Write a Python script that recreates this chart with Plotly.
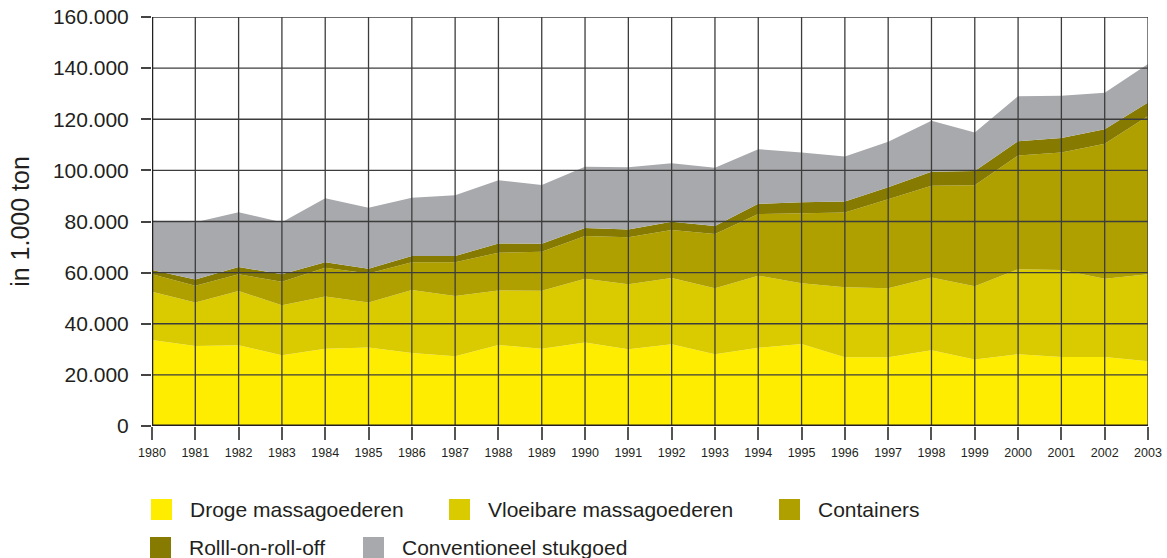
import plotly.graph_objects as go

# ---- data (in 1.000 ton) ----
years = [1980, 1981, 1982, 1983, 1984, 1985, 1986, 1987, 1988, 1989, 1990, 1991,
         1992, 1993, 1994, 1995, 1996, 1997, 1998, 1999, 2000, 2001, 2002, 2003]

droge = [33600, 31300, 31600, 27700, 30200, 30700, 28600, 27300, 31700, 30200, 32700, 30000,
         32000, 28100, 30600, 32100, 26900, 26900, 29600, 26000, 28100, 27000, 27000, 25300]
vloeibare = [18900, 17000, 21200, 19500, 20500, 17600, 24600, 23600, 21300, 22700, 24900, 25500,
             25900, 25800, 28200, 23700, 27400, 27000, 28500, 28700, 33200, 34000, 30600, 34100]
containers = [6900, 6600, 6600, 9200, 11200, 11400, 10900, 13200, 14800, 15300, 16700, 18300,
              18800, 21200, 24100, 27400, 29200, 34800, 35900, 39500, 44500, 46000, 52800, 61900]
roro = [1600, 2400, 2800, 3000, 2200, 1800, 2400, 2400, 3600, 3100, 3200, 3100,
        3200, 3100, 4000, 4300, 4300, 4700, 5500, 5600, 5600, 5700, 5700, 5300]
conventioneel = [19300, 22400, 21400, 20300, 25000, 23900, 22800, 23800, 24700, 23000, 23900, 24300,
                 22900, 22800, 21400, 19500, 17600, 17800, 19900, 15000, 17600, 16500, 14300, 15000]

series_names = ["Droge massagoederen", "Vloeibare massagoederen", "Containers",
                "Rolll-on-roll-off", "Conventioneel stukgoed"]
series_values = [droge, vloeibare, containers, roro, conventioneel]
series_colors = ["#FFED00", "#D9CB00", "#AFA000", "#867B00", "#A8A9AC"]

y_tickvals = [0, 20000, 40000, 60000, 80000, 100000, 120000, 140000, 160000]
y_ticktext = ["0", "20.000", "40.000", "60.000", "80.000", "100.000", "120.000", "140.000", "160.000"]

FONT = "Liberation Sans, Arial, sans-serif"
TXT = "#231f20"
W, H = 1167, 558
ML, MR, MT, MB = 152, 19, 17, 132

fig = go.Figure()
for name, vals, col in zip(series_names, series_values, series_colors):
    fig.add_trace(go.Scatter(
        x=years, y=vals, name=name, stackgroup="one", mode="lines",
        line=dict(width=0, color=col), fillcolor=col, showlegend=False,
        hoverinfo="x+y+name"))

# grid drawn above the areas (as in the reference)
shapes = []
for yr in years:
    shapes.append(dict(type="line", xref="x", yref="y domain", x0=yr, x1=yr, y0=0, y1=1,
                       line=dict(color="#3c3c3c", width=1.3), layer="above"))
for v in y_tickvals[1:]:
    shapes.append(dict(type="line", xref="x domain", yref="y", x0=0, x1=1, y0=v, y1=v,
                       line=dict(color="#3c3c3c", width=1.3), layer="above"))
# thick axis lines
shapes.append(dict(type="line", xref="x domain", yref="y", x0=0, x1=1, y0=0, y1=0,
                   line=dict(color="#231f20", width=3), layer="above"))
shapes.append(dict(type="line", xref="x", yref="y domain", x0=years[0], x1=years[0], y0=0, y1=1,
                   line=dict(color="#231f20", width=2.5), layer="above"))

# custom legend laid out like the reference
pw, ph = W - ML - MR, H - MT - MB


def px2paper(px, py):
    return (px - ML) / pw, (H - MB - py) / ph


legend_layout = [(151, 499), (449, 499), (779, 499), (150, 537), (363, 537)]
annotations = []
for (sx, sy), name, col in zip(legend_layout, series_names, series_colors):
    x0, y1 = px2paper(sx, sy)
    x1, y0 = px2paper(sx + 21, sy + 21)
    shapes.append(dict(type="rect", xref="paper", yref="paper", x0=x0, x1=x1, y0=y0, y1=y1,
                       fillcolor=col, line=dict(width=0)))
    tx, ty = px2paper(sx + 37, sy + 10)
    annotations.append(dict(text=name, xref="paper", yref="paper", x=tx, y=ty,
                            xanchor="left", yanchor="middle", showarrow=False,
                            font=dict(family=FONT, size=21, color=TXT)))

fig.update_layout(
    width=W, height=H,
    margin=dict(l=ML, r=MR, t=MT, b=MB, autoexpand=False),
    paper_bgcolor="white", plot_bgcolor="white",
    font=dict(family=FONT, color=TXT),
    shapes=shapes, annotations=annotations,
    showlegend=False,
    xaxis=dict(range=[years[0], years[-1]], tickvals=years, ticktext=[str(y) for y in years],
               showgrid=False, zeroline=False, showline=False,
               ticks="outside", ticklen=13, tickwidth=1.5, tickcolor="#555555",
               tickfont=dict(family=FONT, size=12.5, color=TXT), ticklabelstandoff=2),
    yaxis=dict(range=[0, 160000], tickvals=y_tickvals, ticktext=y_ticktext,
               showgrid=False, zeroline=False, showline=False,
               ticks="outside", ticklen=10, tickwidth=1.5, tickcolor="#444444",
               tickfont=dict(family=FONT, size=21, color=TXT), ticklabelstandoff=8,
               title=dict(text="in 1.000 ton", font=dict(family=FONT, size=25, color=TXT),
                          standoff=16)),
)

fig.write_html("out.html", config={"displayModeBar": False},
               post_script="document.body.style.margin='0';")
